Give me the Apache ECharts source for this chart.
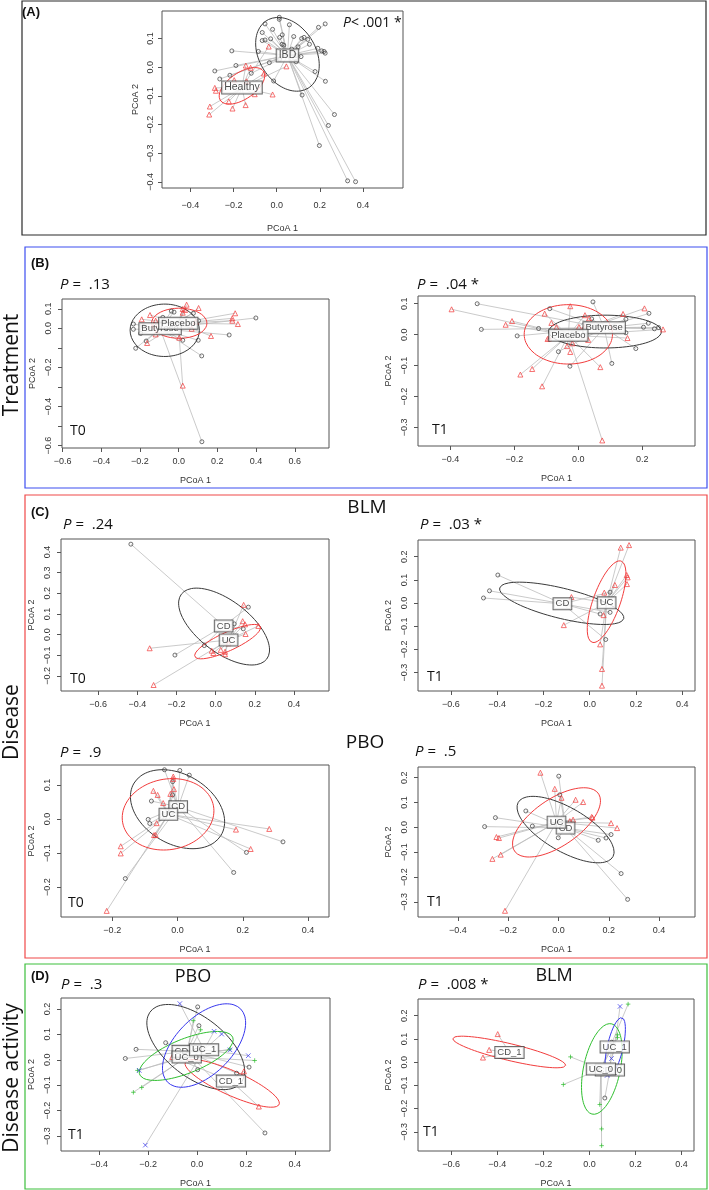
<!DOCTYPE html>
<html>
<head>
<meta charset="utf-8">
<script src="https://cdn.jsdelivr.net/npm/echarts@6/dist/echarts.min.js"></script>
<style>
html, body { margin: 0; padding: 0; background: #fff; }
#main { width: 709px; height: 1190px; }
</style>
</head>
<body>
<div id="main"></div>
<script>
// ---- data (PCoA 1, PCoA 2) ----
// (A) IBD vs Healthy
var aIBD = [[0.012,0.174],[0.012,0.167],[-0.054,0.151],[0.059,0.148],[0.194,0.139],[0.225,0.151],[-0.019,0.132],[-0.067,0.121],[0.026,0.113],[0.014,0.104],[0.079,0.107],[-0.067,0.093],[-0.054,0.095],[-0.028,0.099],[0.116,0.1],[0.127,0.104],[0.144,0.097],[0.152,0.08],[0.025,0.08],[0.033,0.077],[0.099,0.071],[0.191,0.066],[0.209,0.057],[0.22,0.055],[0.225,0.049],[-0.085,0.055],[-0.208,0.057],[0.07,0.063],[0.091,0.041],[0.113,0.037],[0.014,0.028],[-0.034,0.016],[0.09,0.019],[0.178,-0.015],[0.226,-0.049],[-0.189,0.006],[-0.287,-0.013],[-0.118,-0.021],[-0.217,-0.028],[-0.264,-0.041],[-0.014,-0.048],[0.118,-0.097],[0.268,-0.165],[0.24,-0.203],[0.198,-0.273],[0.329,-0.396],[0.366,-0.399]];
var aHealthy = [[-0.037,0.072],[-0.143,0.006],[-0.121,-0.002],[-0.059,-0.022],[0.045,0.003],[-0.197,-0.045],[-0.14,-0.049],[-0.287,-0.072],[-0.282,-0.082],[-0.102,-0.094],[-0.019,-0.095],[-0.222,-0.119],[-0.31,-0.137],[-0.205,-0.144],[-0.144,-0.132],[-0.313,-0.165]];
var aMid = { IBD: [0.05, 0.041], Healthy: [-0.161, -0.071] };
// ellipse: centre x, centre y, then two conjugate semi-axis vectors
var aEll = { IBD: [0.05,0.045,0.096,-0.118,-0.112,-0.051], Healthy: [-0.161,-0.065,0.099,0.052,0.037,-0.037] };

// (B) treatment, T0 and T1
var bT0Butyrose = [[-0.234,0.022],[-0.234,-0.005],[-0.182,0.009],[-0.196,-0.026],[-0.222,-0.102],[-0.168,-0.065],[-0.082,0.056],[-0.038,0.088],[-0.024,0.083],[0.076,0.077],[0.103,0.039],[0.021,-0.061],[0.101,-0.061],[0.119,-0.141],[0.261,-0.034],[0.399,0.053],[0.12,-0.58]];
var bT0Placebo = [[-0.191,0.046],[-0.148,0.068],[-0.119,0.039],[-0.125,0.02],[-0.119,-0.031],[-0.163,-0.075],[0.041,0.121],[0.021,0.099],[0.021,0.08],[0.033,0.094],[0.103,0.104],[0.089,0.034],[0.067,-0.002],[0.003,-0.048],[0.167,-0.039],[0.292,0.077],[0.277,0.051],[0.277,0.039],[0.306,0.022],[0.021,-0.293]];
var bT0Mid = { Butyrose: [-0.096,-0.002], Placebo: [-0.002,0.026] };
var bT0Ell = { Butyrose: [-0.072,-0.01,0.179,0,0,0.134], Placebo: [0.003,0.026,0.143,0,0,0.077] };

var bT1Butyrose = [[-0.316,0.1],[-0.303,0.017],[-0.191,-0.004],[-0.124,0.02],[-0.089,0.084],[0.046,0.106],[0.042,0.051],[-0.062,-0.055],[-0.026,-0.102],[0.105,-0.093],[0.149,0.05],[0.221,0.069],[0.219,0.037],[0.204,0.024],[0.238,0.019],[0.251,0.023],[0.149,0.006],[0.18,-0.045]];
var bT1Placebo = [[-0.396,0.082],[-0.227,0.032],[-0.207,0.044],[-0.105,0.068],[-0.084,0.038],[-0.068,0.024],[-0.096,-0.014],[-0.091,-0.012],[-0.025,0.092],[0.021,0.063],[0.034,0.053],[0.002,0.025],[0.019,0.024],[0.031,-0.017],[-0.018,-0.028],[-0.035,-0.037],[-0.025,-0.056],[-0.181,-0.129],[-0.144,-0.111],[-0.113,-0.167],[0.069,-0.105],[0.075,-0.342],[0.14,0.067],[0.207,0.085],[0.265,0.017],[0.154,-0.011]];
var bT1Mid = { Butyrose: [0.081,0.022], Placebo: [-0.031,-0.002] };
var bT1Ell = { Butyrose: [0.084,0.01,0.176,0,0,0.053], Placebo: [-0.031,0.001,0.138,0,0,0.096] };

// (C) disease, BLM and PBO arms
var cBlmT0CD = [[-0.433,0.438],[-0.208,-0.099],[-0.058,-0.053],[0.167,0.133],[0.095,0.052],[0.141,0.028]];
var cBlmT0UC = [[-0.337,-0.066],[-0.317,-0.244],[0.143,0.144],[0.138,0.065],[0.15,0.05],[0.153,0.003],[0.218,0.042],[-0.02,-0.078],[-0.012,-0.089],[0.026,-0.074],[0.048,-0.083],[0.048,-0.095],[0.065,-0.042]];
var cBlmT0Mid = { CD: [0.041,0.042], UC: [0.066,-0.026] };
var cBlmT0Ell = { CD: [0.043,0.039,0.218,-0.157,-0.08,-0.1], UC: [0.061,-0.034,0.167,0.073,0.021,-0.04] };

var cBlmT1CD = [[-0.397,0.121],[-0.433,0.053],[-0.459,0.022],[0.088,0.047],[0.045,-0.047],[0.088,-0.04],[0.069,-0.157]];
var cBlmT1UC = [[-0.079,0.026],[-0.112,-0.095],[0.063,0.045],[0.06,-0.052],[0.045,-0.178],[0.053,-0.284],[0.053,-0.356],[0.134,0.239],[0.17,0.25],[0.16,0.121],[0.164,0.111],[0.109,0.078],[0.161,0.082]];
var cBlmT1Mid = { CD: [-0.118,-0.003], UC: [0.073,0.001] };
var cBlmT1Ell = { CD: [-0.121,-0.001,0.268,-0.066,-0.016,-0.063], UC: [0.073,0.006,0.063,0.175,0.055,-0.02] };

var cPboT0CD = [[-0.04,0.145],[0.007,0.143],[0.036,0.129],[-0.015,0.11],[-0.015,0.071],[-0.08,0.053],[-0.09,-0.001],[-0.085,-0.013],[-0.16,-0.175],[0.172,-0.157],[0.211,-0.098],[0.323,-0.067]];
var cPboT0UC = [[-0.074,0.083],[-0.061,0.071],[-0.044,0.047],[-0.022,0.074],[-0.011,0.088],[-0.013,0.125],[-0.013,0.118],[-0.064,-0.012],[-0.072,-0.047],[-0.067,-0.047],[-0.174,-0.08],[-0.174,-0.101],[-0.217,-0.27],[0.179,-0.031],[0.224,-0.088],[0.281,-0.029]];
var cPboT0Mid = { CD: [0.002,0.036], UC: [-0.028,0.014] };
var cPboT0Ell = { CD: [0,0.029,0.133,-0.077,-0.056,-0.087], UC: [-0.029,0.014,0.139,0.025,0.02,-0.102] };

var cPboT1CD = [[0.001,0.206],[0.005,0.131],[-0.13,0.066],[-0.251,0.039],[-0.294,0.003],[-0.104,0.005],[-0.001,-0.042],[0.158,-0.052],[0.189,-0.043],[0.209,-0.029],[0.249,-0.186],[0.275,-0.29]];
var cPboT1UC = [[-0.072,0.22],[-0.015,0.155],[0.012,0.119],[0.068,0.111],[0.098,0.102],[0.045,0.025],[0.058,0.031],[0.132,0.042],[0.135,0.039],[0.209,0.017],[0.233,-0.003],[-0.247,-0.039],[-0.237,-0.043],[-0.23,-0.11],[-0.263,-0.127],[-0.213,-0.336]];
var cPboT1Mid = { CD: [0.028,-0.003], UC: [-0.008,0.021] };
var cPboT1Ell = { CD: [0.028,-0.009,0.193,-0.09,0,0.099], UC: [-0.008,0.02,0.175,0.087,0,0.109] };

// (D) disease activity, T1
var dPboCD0 = [[0.003,0.208],[0.008,0.134],[-0.128,0.067],[-0.249,0.041],[-0.293,0.005],[0.003,-0.039],[0.162,-0.053],[0.213,-0.029],[0.278,-0.288]];
var dPboCD1 = [[-0.101,0.011],[0.192,-0.045],[0.253,-0.184]];
var dPboUC0 = [[-0.015,0.154],[0.015,0.118],[0.135,0.042],[0.236,-0.003],[-0.243,-0.042],[-0.226,-0.109],[-0.26,-0.128]];
var dPboUC1 = [[-0.07,0.221],[0.07,0.112],[0.101,0.101],[0.135,0.039],[0.21,0.016],[-0.236,-0.042],[-0.211,-0.336]];
var dPboMid = { CD_0: [-0.042,0.033], CD_1: [0.139,-0.084], UC_0: [-0.042,0.011], UC_1: [0.029,0.039] };
var dPboEll = { CD_0: [-0.005,0.05,0.2,-0.095,0,0.138], CD_1: [0.144,-0.093,0.193,-0.078,0,0.052], UC_0: [-0.044,0.015,0.192,0.064,0,0.072], UC_1: [0.029,0.056,0.17,0.089,0,0.138] };

var dBlmCD0 = [[0.067,-0.154],[0.097,0.086]];
var dBlmCD1 = [[-0.398,0.121],[-0.435,0.053],[-0.462,0.02]];
var dBlmUC0 = [[0.168,0.25],[0.122,0.118],[0.122,0.106],[-0.082,0.023],[-0.113,-0.096],[0.045,-0.182],[0.053,-0.287],[0.053,-0.359]];
var dBlmUC1 = [[0.133,0.24],[0.096,0.016],[0.077,-0.057]];
var dBlmMid = { CD_0: [0.089,-0.034], CD_1: [-0.347,0.042], UC_0: [0.05,-0.029], UC_1: [0.11,0.066] };
var dBlmEll = { CD_0: null, CD_1: [-0.348,0.044,0.245,-0.057,0,0.037], UC_0: [0.054,-0.029,0.081,0,0.035,0.195], UC_1: [0.112,0.066,0.035,0,0.027,0.126] };

// tick values
var ticksX4 = [-0.4, -0.2, 0, 0.2, 0.4];
var ticksX6 = [-0.6, -0.4, -0.2, 0, 0.2, 0.4, 0.6];
var ticksX64 = [-0.6, -0.4, -0.2, 0, 0.2, 0.4];
var ticksX42 = [-0.4, -0.2, 0, 0.2];
var ticksX24 = [-0.2, 0, 0.2, 0.4];
var ticksYA = [-0.4, -0.3, -0.2, -0.1, 0, 0.1];
var ticksYB0 = [-0.6, -0.5, -0.4, -0.3, -0.2, -0.1, 0, 0.1];
var labelsYB0 = [-0.6, -0.4, -0.2, 0, 0.1];
var ticksY31 = [-0.3, -0.2, -0.1, 0, 0.1];
var ticksY24 = [-0.2, -0.1, 0, 0.1, 0.2, 0.3, 0.4];
var ticksY32 = [-0.3, -0.2, -0.1, 0, 0.1, 0.2];
var ticksY21 = [-0.2, -0.1, 0, 0.1];

// ---- layout / styling ----
var pal = ['#3a3a3a', '#f23c3c', '#2fbf2f', '#3737ee'];
var shapes = ['circle', 'triangle', 'path://M1,0L1,2M0,1L2,1', 'path://M0,0L2,2M0,2L2,0'];
var sizes = [4, 5, 4.5, 4.5];

var panels = [
  { box: [162, 11, 241, 177], xr: [-0.532, 0.586], yr: [-0.421, 0.196], xt: ticksX4, yt: ticksYA, yl: ticksYA, big: true,
    groups: [['IBD', aIBD, 0], ['Healthy', aHealthy, 1]], mid: aMid, ell: aEll,
    p: '< .001 *', pPos: [343, 26] },
  { box: [62, 299, 267, 149], xr: [-0.603, 0.777], yr: [-0.612, 0.15], xt: ticksX6, yt: ticksYB0, yl: labelsYB0,
    groups: [['Butyrose', bT0Butyrose, 0], ['Placebo', bT0Placebo, 1]], mid: bT0Mid, ell: bT0Ell,
    p: ' =  .13', pPos: [60, 287], t: 'T0', tPos: [70, 433] },
  { box: [418, 296, 277, 150], xr: [-0.501, 0.365], yr: [-0.36, 0.125], xt: ticksX42, yt: ticksY31, yl: ticksY31,
    groups: [['Butyrose', bT1Butyrose, 0], ['Placebo', bT1Placebo, 1]], mid: bT1Mid, ell: bT1Ell,
    p: ' =  .04 *', pPos: [417, 287], t: 'T1', tPos: [432, 432] },
  { box: [61, 539, 268, 152], xr: [-0.79, 0.579], yr: [-0.273, 0.463], xt: ticksX64, yt: ticksY24, yl: ticksY24,
    groups: [['CD', cBlmT0CD, 0], ['UC', cBlmT0UC, 1]], mid: cBlmT0Mid, ell: cBlmT0Ell,
    p: ' =  .24', pPos: [63, 527], t: 'T0', tPos: [70, 681] },
  { box: [418, 540, 277, 151], xr: [-0.742, 0.455], yr: [-0.379, 0.272], xt: ticksX64, yt: ticksY32, yl: ticksY32,
    groups: [['CD', cBlmT1CD, 0], ['UC', cBlmT1UC, 1]], mid: cBlmT1Mid, ell: cBlmT1Ell,
    p: ' =  .03 *', pPos: [420, 527], t: 'T1', tPos: [427, 679] },
  { box: [61, 765, 268, 152], xr: [-0.357, 0.464], yr: [-0.288, 0.159], xt: ticksX24, yt: ticksY21, yl: ticksY21,
    groups: [['CD', cPboT0CD, 0], ['UC', cPboT0UC, 1]], mid: cPboT0Mid, ell: cPboT0Ell,
    p: ' =  .9', pPos: [60, 755], t: 'T0', tPos: [68, 905] },
  { box: [418, 767, 277, 150], xr: [-0.559, 0.543], yr: [-0.361, 0.243], xt: ticksX4, yt: ticksY32, yl: ticksY32,
    groups: [['CD', cPboT1CD, 0], ['UC', cPboT1UC, 1]], mid: cPboT1Mid, ell: cPboT1Ell,
    p: ' =  .5', pPos: [415, 754], t: 'T1', tPos: [427, 904] },
  { box: [61, 998, 269, 153], xr: [-0.556, 0.544], yr: [-0.359, 0.243], xt: ticksX4, yt: ticksY32, yl: ticksY32,
    groups: [['CD_0', dPboCD0, 0], ['CD_1', dPboCD1, 1], ['UC_0', dPboUC0, 2], ['UC_1', dPboUC1, 3]], mid: dPboMid, ell: dPboEll,
    p: ' =  .3', pPos: [61, 987], t: 'T1', tPos: [68, 1137] },
  { box: [418, 999, 276, 152], xr: [-0.744, 0.454], yr: [-0.382, 0.272], xt: ticksX64, yt: ticksY32, yl: ticksY32,
    groups: [['CD_0', dBlmCD0, 0], ['CD_1', dBlmCD1, 1], ['UC_0', dBlmUC0, 2], ['UC_1', dBlmUC1, 3]], mid: dBlmMid, ell: dBlmEll,
    p: ' =  .008 *', pPos: [418, 987], t: 'T1', tPos: [423, 1134] }
];

var smallFont = '"Liberation Sans Narrow", "Liberation Sans", Arial, sans-serif';
var bigFont = '"Open Sans", "DejaVu Sans", sans-serif';

function fmt(v) {
  return (v < -1e-9 ? '\u2212' : '') + Math.abs(v).toFixed(1);
}

function ellipsePts(e) {
  var out = [];
  for (var k = 0; k <= 90; k++) {
    var t = k / 90 * 2 * Math.PI;
    out.push([e[0] + e[2] * Math.cos(t) + e[4] * Math.sin(t),
              e[1] + e[3] * Math.cos(t) + e[5] * Math.sin(t)]);
  }
  return out;
}

var grids = [], xAxes = [], yAxes = [], series = [], graphics = [];

panels.forEach(function (p, i) {
  grids.push({ left: p.box[0], top: p.box[1], width: p.box[2], height: p.box[3],
    show: true, borderColor: '#555', borderWidth: 1, backgroundColor: 'transparent' });
  xAxes.push({
    gridIndex: i, type: 'value', min: p.xr[0], max: p.xr[1], position: 'bottom',
    axisLine: { show: false, onZero: false },
    axisTick: { show: true, length: 4, customValues: p.xt, lineStyle: { color: '#555' } },
    axisLabel: { customValues: p.xt, formatter: fmt, fontSize: 9, fontFamily: smallFont, color: '#333', margin: p.big ? 13 : 9 },
    splitLine: { show: false },
    name: 'PCoA 1', nameLocation: 'middle', nameGap: p.big ? 36 : 28,
    nameTextStyle: { fontSize: 9, fontFamily: smallFont, color: '#333' }
  });
  yAxes.push({
    gridIndex: i, type: 'value', min: p.yr[0], max: p.yr[1], position: 'left',
    axisLine: { show: false, onZero: false },
    axisTick: { show: true, length: 4, customValues: p.yt, lineStyle: { color: '#555' } },
    axisLabel: { customValues: p.yl, formatter: fmt, rotate: 90, fontSize: 9, fontFamily: smallFont, color: '#333', margin: p.big ? 7 : 9 },
    splitLine: { show: false },
    name: 'PCoA 2', nameLocation: 'middle', nameGap: p.big ? 22 : 25, nameRotate: 90,
    nameTextStyle: { fontSize: 9, fontFamily: smallFont, color: '#333' }
  });

  p.groups.forEach(function (g) {
    var name = g[0], pts = g[1], col = pal[g[2]], mid = p.mid[name];
    // spider lines to the group centroid
    series.push({
      type: 'lines', coordinateSystem: 'cartesian2d', xAxisIndex: i, yAxisIndex: i,
      silent: true, z: 1,
      lineStyle: { color: '#bdbdbd', width: 0.8, opacity: 1 },
      data: pts.map(function (pt) { return { coords: [mid, pt] }; })
    });
    if (p.ell[name]) {
      series.push({
        type: 'line', xAxisIndex: i, yAxisIndex: i, silent: true, z: 2,
        showSymbol: false, smooth: false,
        lineStyle: { color: col, width: 1 },
        data: ellipsePts(p.ell[name])
      });
    }
    series.push({
      type: 'scatter', xAxisIndex: i, yAxisIndex: i, silent: true, z: 3,
      symbol: shapes[g[2]], symbolSize: sizes[g[2]],
      itemStyle: { color: 'rgba(0,0,0,0)', borderColor: col, borderWidth: 0.9 },
      data: pts
    });
  });
  // centroid labels
  p.groups.forEach(function (g, k) {
    series.push({
      type: 'scatter', xAxisIndex: i, yAxisIndex: i, silent: true, z: 5 + k,
      symbolSize: 1, itemStyle: { color: 'rgba(0,0,0,0)' },
      label: {
        show: true, position: 'inside', formatter: g[0],
        fontSize: p.big ? 10.5 : 9.5, fontFamily: smallFont, color: '#222',
        backgroundColor: '#fff', borderColor: '#444', borderWidth: 1, padding: [1, 2, 0, 2]
      },
      data: [{ name: g[0], value: p.mid[g[0]] }]
    });
  });

  graphics.push({
    type: 'text', left: p.pPos[0], top: p.pPos[1] - 10, z: 20,
    style: {
      text: '{i|P}{n|' + p.p + '}',
      rich: {
        i: { fontStyle: 'italic', fontSize: p.big ? 14 : 15, fontFamily: bigFont, fill: '#111' },
        n: { fontSize: p.big ? 14 : 15, fontFamily: bigFont, fill: '#111' }
      }
    }
  });
  if (p.t) {
    graphics.push({
      type: 'text', left: p.tPos[0], top: p.tPos[1] - 9, z: 20,
      style: { text: p.t, font: '14px ' + bigFont, fill: '#111' }
    });
  }
});

// frames and section labels
var frames = [
  [22, 1, 684, 234, '#2a2a2a'],
  [25, 247, 682, 241, '#3c4ef0'],
  [25, 495, 682, 463, '#f04848'],
  [25, 964, 682, 225, '#3cbf3c']
];
frames.forEach(function (f) {
  graphics.push({ type: 'rect', shape: { x: f[0], y: f[1], width: f[2], height: f[3] },
    style: { fill: 'none', stroke: f[4], lineWidth: 1.2 }, z: 30 });
});

function addText(txt, x, y, font, rot) {
  graphics.push({
    type: 'text', x: x, y: y, rotation: rot || 0, z: 25,
    style: { text: txt, font: font, fill: '#111', textAlign: 'center', textVerticalAlign: 'middle' }
  });
}
var boldFont = 'bold 13px "Liberation Sans", Arial, sans-serif';
addText('(A)', 31, 12, boldFont);
addText('(B)', 40, 263, boldFont);
addText('(C)', 40, 512, boldFont);
addText('(D)', 40, 976, boldFont);
addText('Treatment', 12, 365, '21px ' + bigFont, Math.PI / 2);
addText('Disease', 12, 722, '21px ' + bigFont, Math.PI / 2);
addText('Disease activity', 12, 1078, '21px ' + bigFont, Math.PI / 2);
addText('BLM', 367, 508, '19px ' + bigFont);
addText('PBO', 365, 743, '19px ' + bigFont);
addText('PBO', 193, 977, '18px ' + bigFont);
addText('BLM', 554, 976, '18px ' + bigFont);

var myChart = echarts.init(document.getElementById('main'), null, { renderer: 'canvas' });
option = {
  animation: false,
  backgroundColor: '#fff',
  grid: grids,
  xAxis: xAxes,
  yAxis: yAxes,
  series: series,
  graphic: graphics
};
myChart.setOption(option);
</script>
</body>
</html>
